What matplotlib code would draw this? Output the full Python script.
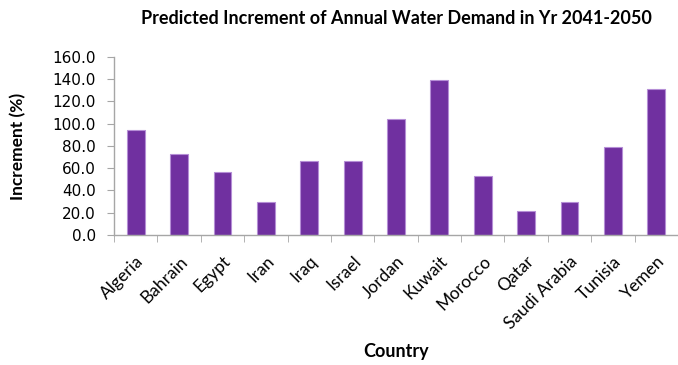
import matplotlib
matplotlib.use("Agg")
import matplotlib.pyplot as plt
import numpy as np

countries = ["Algeria", "Bahrain", "Egypt", "Iran", "Iraq", "Israel", "Jordan",
             "Kuwait", "Morocco", "Qatar", "Saudi Arabia", "Tunisia", "Yemen"]
increment = [94.0, 72.4, 56.3, 29.9, 66.1, 66.1, 103.8, 138.8, 53.0, 21.2, 29.9, 79.3, 131.3]
yticks = [0, 20, 40, 60, 80, 100, 120, 140, 160]

fig = plt.figure(figsize=(6.78, 3.65), dpi=100)
ax = fig.add_axes([114/678, 130/365, 564/678, 178.3/365])

x = np.arange(len(countries))
ax.bar(x, increment, width=0.41, color="#7030A0", edgecolor="#B58ED6", linewidth=0.8, zorder=2)

ax.set_xlim(-0.5, len(countries) - 0.5)
ax.set_ylim(0, 160)
ax.set_yticks(yticks)
ax.set_yticklabels([f"{v:.1f}" for v in yticks], fontfamily="DejaVu Sans", fontsize=11)
ax.set_xticks(np.arange(len(countries) + 1) - 0.5, minor=True)
ax.set_xticks(x)
ax.set_xticklabels(countries, rotation=45, ha="right", rotation_mode="anchor",
                   fontfamily="Lato", fontsize=12.5)
ax.tick_params(axis="x", which="major", length=0, pad=13)
ax.tick_params(axis="x", which="minor", length=5, color="#A6A6A6", direction="out")
ax.tick_params(axis="y", length=5, color="#A6A6A6", direction="out", pad=8)

for s in ["top", "right"]:
    ax.spines[s].set_visible(False)
for s in ["left", "bottom"]:
    ax.spines[s].set_color("#A6A6A6")
    ax.spines[s].set_linewidth(1.0)

fig.text(396/678, 1 - 18/365, "Predicted Increment of Annual Water Demand in Yr 2041-2050",
         ha="center", va="center", fontfamily="Lato", fontweight="bold", fontsize=13)
fig.text(396/678, 1 - 352/365, "Country", ha="center", va="center",
         fontfamily="Lato", fontweight="bold", fontsize=13)
fig.text(18/678, 1 - 146/365, "Increment (%)", ha="center", va="center", rotation=90,
         fontfamily="Lato", fontweight="bold", fontsize=12.5)

fig.savefig("out.png", dpi=100)
